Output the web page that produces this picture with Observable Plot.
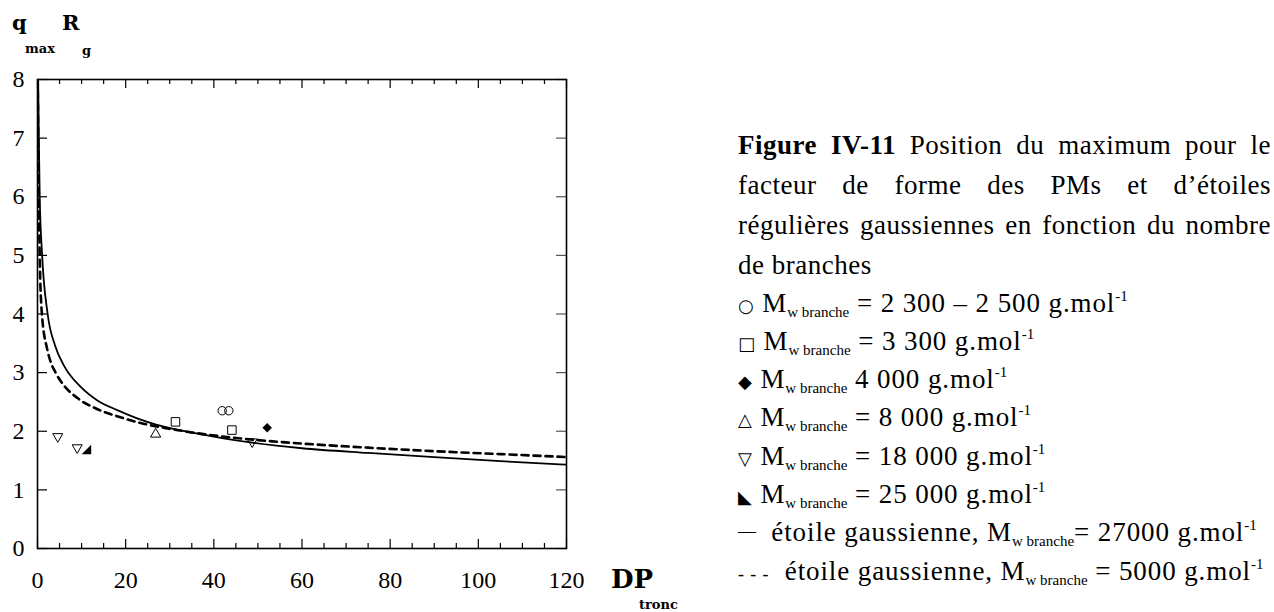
<!DOCTYPE html>
<html>
<head>
<meta charset="utf-8">
<script src="https://cdn.jsdelivr.net/npm/d3@7"></script>
<script src="https://cdn.jsdelivr.net/npm/@observablehq/plot@0.6"></script>
<style>
  html, body { margin: 0; padding: 0; background: #fff; overflow: hidden; }
  #wrap { position: relative; width: 1274px; height: 612px; font-family: "Liberation Serif", serif; color: #000; }
  #chart { position: absolute; left: 0; top: 0; }
  .abs { position: absolute; white-space: nowrap; line-height: 1; }
  .bold { font-family: "DejaVu Serif", serif; font-weight: bold; }
  .cap { position: absolute; left: 738px; width: 533px; font-size: 27px; letter-spacing: 0.5px; line-height: 1; white-space: nowrap; }
  .just { text-align: justify; text-align-last: justify; white-space: normal; }
  .leg { position: absolute; left: 738px; font-size: 27px; letter-spacing: 0.9px; line-height: 1; white-space: nowrap; }
  .leg sub { font-size: 15px; letter-spacing: 0; vertical-align: -5px; }
  .leg sup { font-size: 15px; letter-spacing: 0; vertical-align: 11px; }
  .sym { font-family: "DejaVu Sans", sans-serif; font-size: 18px; display: inline-block; }
</style>
</head>
<body>
<div id="wrap">
  <div id="chart"></div>
</div>
<script>
// ---- data ----
const xTicksMajor = [0, 20, 40, 60, 80, 100, 120];
const xTicksMinor = [5, 10, 15, 25, 30, 35, 45, 50, 55, 65, 70, 75, 85, 90, 95, 105, 110, 115];
const yTicks = [0, 1, 2, 3, 4, 5, 6, 7, 8];

// solid curve: gaussian star, Mw branche = 27000
const solidX = [0.15, 0.3, 0.5, 1.05, 2.3, 4.0, 6.0, 9.75, 13.5, 18.1, 22.6, 27.1, 30.9, 34.7, 38.5, 42.2, 48.3, 60, 75, 90, 105, 120];
const solidY = [8.0, 7.0, 6.0, 5.0, 4.0, 3.46, 3.12, 2.76, 2.53, 2.36, 2.22, 2.11, 2.04, 1.98, 1.93, 1.88, 1.81, 1.71, 1.63, 1.56, 1.49, 1.43];

// dashed curve: gaussian star, Mw branche = 5000
const dashX = [0.05, 0.15, 0.3, 0.5, 1.0, 2.2, 3.0, 4.1, 6.0, 9.0, 13.5, 18.8, 23.4, 28.6, 35, 42, 49.8, 60, 75, 90, 105, 120];
const dashY = [8.0, 7.0, 6.0, 5.0, 4.0, 3.4, 3.18, 3.0, 2.78, 2.57, 2.38, 2.24, 2.14, 2.06, 1.98, 1.91, 1.85, 1.79, 1.72, 1.66, 1.61, 1.56];

// experimental points
const circleX = [41.9, 43.4],        circleY = [2.35, 2.35];   // Mw = 2300-2500
const squareX = [31.3, 44.1],        squareY = [2.16, 2.02];   // Mw = 3300
const diamondX = [52.1],             diamondY = [2.06];        // Mw = 4000
const triUpX = [26.8],               triUpY = [1.95];          // Mw = 8000
const triDownX = [4.6, 9.0, 48.7],   triDownY = [1.91, 1.72, 1.82]; // Mw = 18000
const cornerX = [11.1],              cornerY = [1.69];         // Mw = 25000

// texts
const captionLines = [
  ["Figure IV-11", " Position du maximum pour le"],
  ["", "facteur de forme des PMs et d\u2019étoiles"],
  ["", "régulières gaussiennes en fonction du nombre"],
  ["", "de branches"]
];
const legendSymbols = ["\u25CB", "\u25A1", "\u25C6", "\u25B3", "\u25BD", "\u25E3", "\u2014", "- - -"];
const legendValues = ["= 2 300 \u2013 2 500 g.mol", "= 3 300 g.mol", "4 000 g.mol", "= 8 000 g.mol", "= 18 000 g.mol", "= 25 000 g.mol", "= 27000 g.mol", "= 5000 g.mol"];
const legendPrefix = ["", "", "", "", "", "", "\u00a0étoile gaussienne, ", "\u00a0étoile gaussienne, "];
const xLabelMain = "DP", xLabelSub = "tronc";
const yLabelParts = ["q", "max", "R", "g"];

// ---- build ----
const zip = (xs, ys) => xs.map((x, i) => ({x, y: ys[i]}));
const W = 1274, H = 612;
const mL = 37, mR = W - 566, mT = 79, mB = H - 548;
const frameH = H - mT - mB, frameW = W - mL - mR;

const triDownSym = {draw(ctx, size) {
  const y = -Math.sqrt(size / (Math.sqrt(3) * 3));
  ctx.moveTo(0, -2 * y); ctx.lineTo(-Math.sqrt(3) * y, y); ctx.lineTo(Math.sqrt(3) * y, y); ctx.closePath();
}};
const cornerSym = {draw(ctx, size) {
  const s = Math.sqrt(size / 2);
  ctx.moveTo(s, -s); ctx.lineTo(s, s); ctx.lineTo(-s, s); ctx.closePath();
}};
const diamondSym = {draw(ctx, size) {
  const d = Math.sqrt(size / 2);
  ctx.moveTo(0, -d); ctx.lineTo(d, 0); ctx.lineTo(0, d); ctx.lineTo(-d, 0); ctx.closePath();
}};

const tickFont = {fontFamily: "Liberation Serif", fontSize: 24, fill: "black", tickFormat: d => String(d)};

const chart = Plot.plot({
  width: W, height: H,
  marginLeft: mL, marginRight: mR, marginTop: mT, marginBottom: mB,
  x: {domain: [0, 120]},
  y: {domain: [0, 8]},
  style: {background: "white", color: "black", fontFamily: "Liberation Serif"},
  marks: [
    // inward ticks
    Plot.tickX(xTicksMajor, {x: d => d, insetTop: frameH - 9, stroke: "black", strokeWidth: 1.2}),
    Plot.tickX(xTicksMinor, {x: d => d, insetTop: frameH - 5, stroke: "black", strokeWidth: 1.2}),
    Plot.tickX(xTicksMajor, {x: d => d, insetBottom: frameH - 9, stroke: "black", strokeWidth: 1.2}),
    Plot.tickX(xTicksMinor, {x: d => d, insetBottom: frameH - 5, stroke: "black", strokeWidth: 1.2}),
    Plot.tickY(yTicks, {y: d => d, insetRight: frameW - 10, stroke: "black", strokeWidth: 1.2}),
    Plot.tickY(yTicks, {y: d => d, insetLeft: frameW - 10, stroke: "#555", strokeWidth: 1.2}),
    Plot.axisX(xTicksMajor, {anchor: "bottom", tickSize: 0, tickPadding: 22, label: null, ...tickFont}),
    Plot.axisY(yTicks, {anchor: "left", tickSize: 0, tickPadding: 13, label: null, ...tickFont}),
    // curves
    Plot.line(zip(solidX, solidY), {x: "x", y: "y", stroke: "black", strokeWidth: 1.8, curve: "monotone-x", clip: true}),
    Plot.line(zip(dashX, dashY), {x: "x", y: "y", stroke: "black", strokeWidth: 2.6, strokeDasharray: "7,5", curve: "monotone-x", clip: true}),
    // points
    Plot.dot(zip(circleX, circleY), {x: "x", y: "y", r: 4.2, symbol: "circle", stroke: "black", strokeWidth: 1, fill: "none"}),
    Plot.dot(zip(squareX, squareY), {x: "x", y: "y", r: 4.8, symbol: "square", stroke: "black", strokeWidth: 1, fill: "none"}),
    Plot.dot(zip(diamondX, diamondY), {x: "x", y: "y", r: 3.8, symbol: diamondSym, fill: "black", stroke: "none"}),
    Plot.dot(zip(triUpX, triUpY), {x: "x", y: "y", r: 3.8, symbol: "triangle", stroke: "black", strokeWidth: 1, fill: "none"}),
    Plot.dot(zip(triDownX, triDownY), {x: "x", y: "y", r: 3.7, symbol: triDownSym, stroke: "black", strokeWidth: 1, fill: "none"}),
    Plot.dot(zip(cornerX, cornerY), {x: "x", y: "y", r: 3.8, symbol: cornerSym, fill: "black", stroke: "none"}),
    Plot.frame({stroke: "black", strokeWidth: 1.6})
  ]
});
document.getElementById("chart").appendChild(chart);

const wrap = document.getElementById("wrap");
function addAbs(html, left, top, cls, extra) {
  const d = document.createElement("div");
  d.className = "abs " + (cls || "");
  d.style.left = left + "px"; d.style.top = top + "px";
  if (extra) Object.assign(d.style, extra);
  d.innerHTML = html;
  wrap.appendChild(d);
  return d;
}
// y axis label  q_max R_g
addAbs(yLabelParts[0], 12, 12, "bold", {fontSize: "21px"});
addAbs(yLabelParts[1], 25, 42, "bold", {fontSize: "13px"});
addAbs(yLabelParts[2], 62, 12, "bold", {fontSize: "21px"});
addAbs(yLabelParts[3], 82, 44, "bold", {fontSize: "13px"});
// x axis label DP_tronc
addAbs(xLabelMain, 611, 566, "bold", {fontSize: "26px"});
addAbs(xLabelSub, 639, 598, "bold", {fontSize: "13px"});

// caption
const capTops = [132, 172, 212, 252];
captionLines.forEach((ln, i) => {
  const d = document.createElement("div");
  d.className = "cap" + (i < 3 ? " just" : "");
  d.style.top = capTops[i] + "px";
  d.innerHTML = (ln[0] ? "<b>" + ln[0] + "</b>" : "") + ln[1];
  wrap.appendChild(d);
});

// legend
const legTops = [289, 327, 365, 403, 442, 480, 518, 557];
legendSymbols.forEach((s, i) => {
  const d = document.createElement("div");
  d.className = "leg";
  d.style.top = legTops[i] + "px";
  let sym;
  if (i < 6) sym = '<span class="sym">' + s + '</span> ';
  else if (i === 6) sym = '<span style="font-size:18px;vertical-align:4px;letter-spacing:0">' + s + '</span>\u00a0';
  else sym = '<span style="font-size:18px">' + s + '</span>\u00a0';
  d.innerHTML = sym + legendPrefix[i] + "M<sub>w branche</sub>" + (i === 6 ? "" : " ") + legendValues[i] + "<sup>-1</sup>";
  wrap.appendChild(d);
});
</script>
</body>
</html>
